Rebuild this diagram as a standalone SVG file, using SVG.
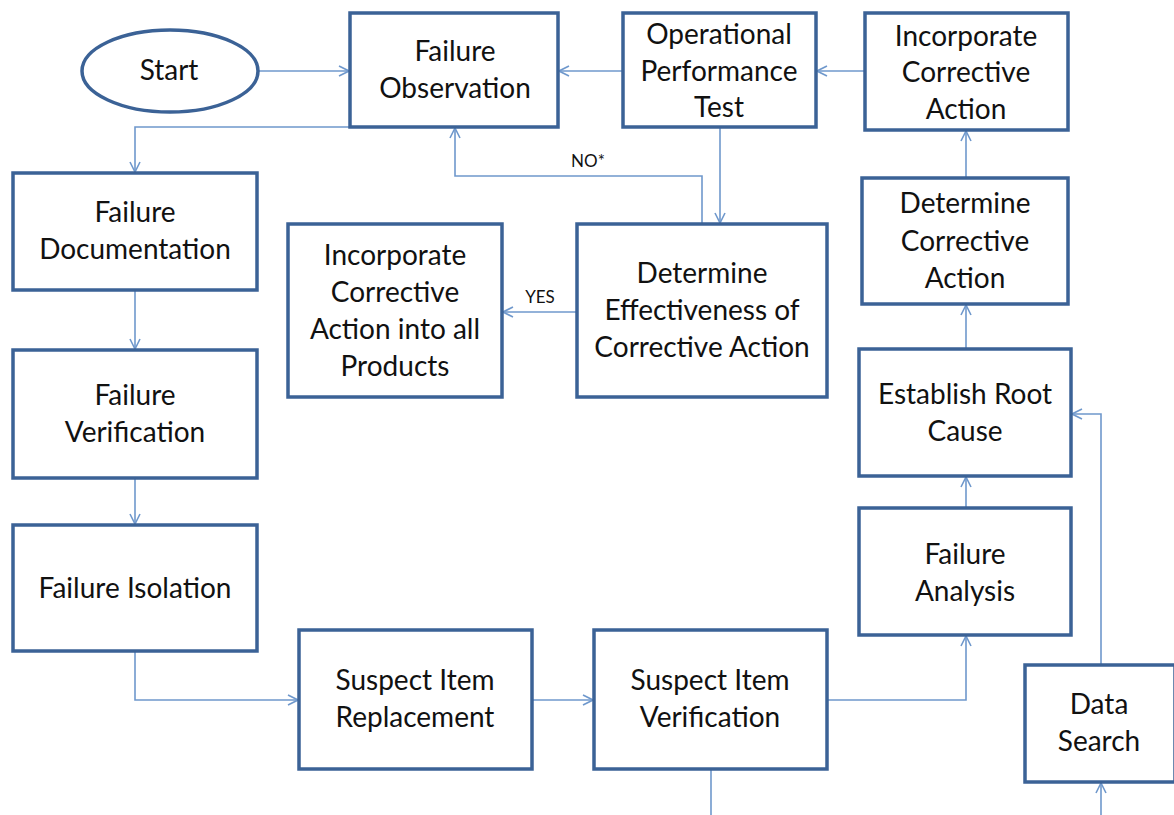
<svg xmlns="http://www.w3.org/2000/svg" width="1174" height="815" viewBox="0 0 1174 815">
  <style>
    .box { fill: #ffffff; stroke: #3B6296; stroke-width: 3.5; }
    .lbl { font-family: Lato, "Open Sans", "Liberation Sans", sans-serif; font-size: 28px; fill: #111111; text-anchor: middle; }
    .small { font-family: Lato, "Liberation Sans", sans-serif; font-size: 17px; fill: #111111; text-anchor: middle; }
    .conn { fill: none; stroke: #6F98CC; stroke-width: 1.6; }
  </style>
  <defs>
    <marker id="arrow" viewBox="0 0 12 12" refX="11" refY="6" markerWidth="12" markerHeight="12" markerUnits="userSpaceOnUse" orient="auto">
      <path d="M1,1 L11,6 L1,11" fill="none" stroke="#6F98CC" stroke-width="1.6"/>
    </marker>
  </defs>

  <rect width="1174" height="815" fill="#ffffff"/>

  <!-- connectors -->
  <g id="connectors">
    <path class="conn" d="M258,71 H349" marker-end="url(#arrow)"/>
    <path class="conn" d="M350,127 H135 V172" marker-end="url(#arrow)"/>
    <path class="conn" d="M135,290 V349" marker-end="url(#arrow)"/>
    <path class="conn" d="M135,478 V524" marker-end="url(#arrow)"/>
    <path class="conn" d="M135,651 V700 H298" marker-end="url(#arrow)"/>
    <path class="conn" d="M532,700 H593" marker-end="url(#arrow)"/>
    <path class="conn" d="M827,700 H966 V636" marker-end="url(#arrow)"/>
    <path class="conn" d="M966,508 V477" marker-end="url(#arrow)"/>
    <path class="conn" d="M966,349 V305" marker-end="url(#arrow)"/>
    <path class="conn" d="M966,178 V131" marker-end="url(#arrow)"/>
    <path class="conn" d="M865,71 H817" marker-end="url(#arrow)"/>
    <path class="conn" d="M623,71 H559" marker-end="url(#arrow)"/>
    <path class="conn" d="M720,127 V223" marker-end="url(#arrow)"/>
    <path class="conn" d="M702,224 V176 H455 V128" marker-end="url(#arrow)"/>
    <path class="conn" d="M577,312 H503" marker-end="url(#arrow)"/>
    <path class="conn" d="M711,769 V815"/>
    <path class="conn" d="M1101,815 V783" marker-end="url(#arrow)"/>
    <path class="conn" d="M1101,665 V414 H1072" marker-end="url(#arrow)"/>
    <text class="small" x="588" y="167">NO*</text>
    <text class="small" x="540" y="303">YES</text>
  </g>

  <g id="start">
    <ellipse class="box" cx="170" cy="71" rx="88" ry="41"/>
    <text class="lbl" x="169" y="80">Start</text>
  </g>

  <g id="failure-observation">
    <rect class="box" x="350" y="13" width="208" height="114"/>
    <text class="lbl" x="455" y="61">Failure</text>
    <text class="lbl" x="455" y="98">Observation</text>
  </g>

  <g id="operational-performance-test">
    <rect class="box" x="623" y="13" width="193" height="114"/>
    <text class="lbl" x="719" y="44">Operational</text>
    <text class="lbl" x="719" y="81">Performance</text>
    <text class="lbl" x="719" y="117">Test</text>
  </g>

  <g id="incorporate-corrective-action">
    <rect class="box" x="865" y="13" width="203" height="117"/>
    <text class="lbl" x="966" y="46">Incorporate</text>
    <text class="lbl" x="966" y="82">Corrective</text>
    <text class="lbl" x="966" y="119">Action</text>
  </g>

  <g id="failure-documentation">
    <rect class="box" x="13" y="173" width="244" height="117"/>
    <text class="lbl" x="135" y="222">Failure</text>
    <text class="lbl" x="135" y="259">Documentation</text>
  </g>

  <g id="incorporate-all-products">
    <rect class="box" x="288" y="224" width="214" height="173"/>
    <text class="lbl" x="395" y="265">Incorporate</text>
    <text class="lbl" x="395" y="302">Corrective</text>
    <text class="lbl" x="395" y="339">Action into all</text>
    <text class="lbl" x="395" y="376">Products</text>
  </g>

  <g id="determine-effectiveness">
    <rect class="box" x="577" y="224" width="250" height="173"/>
    <text class="lbl" x="702" y="283">Determine</text>
    <text class="lbl" x="702" y="320">Effectiveness  of</text>
    <text class="lbl" x="702" y="357">Corrective  Action</text>
  </g>

  <g id="determine-corrective-action">
    <rect class="box" x="862" y="178" width="206" height="126"/>
    <text class="lbl" x="965" y="213">Determine</text>
    <text class="lbl" x="965" y="251">Corrective</text>
    <text class="lbl" x="965" y="288">Action</text>
  </g>

  <g id="establish-root-cause">
    <rect class="box" x="859" y="349" width="212" height="127"/>
    <text class="lbl" x="965" y="404">Establish Root</text>
    <text class="lbl" x="965" y="441">Cause</text>
  </g>

  <g id="failure-verification">
    <rect class="box" x="13" y="350" width="244" height="128"/>
    <text class="lbl" x="135" y="405">Failure</text>
    <text class="lbl" x="135" y="442">Verification</text>
  </g>

  <g id="failure-isolation">
    <rect class="box" x="13" y="525" width="244" height="126"/>
    <text class="lbl" x="135" y="598">Failure Isolation</text>
  </g>

  <g id="failure-analysis">
    <rect class="box" x="859" y="508" width="212" height="127"/>
    <text class="lbl" x="965" y="564">Failure</text>
    <text class="lbl" x="965" y="601">Analysis</text>
  </g>

  <g id="suspect-item-replacement">
    <rect class="box" x="299" y="630" width="233" height="139"/>
    <text class="lbl" x="415" y="690">Suspect Item</text>
    <text class="lbl" x="415" y="727">Replacement</text>
  </g>

  <g id="suspect-item-verification">
    <rect class="box" x="594" y="630" width="233" height="139"/>
    <text class="lbl" x="710" y="690">Suspect Item</text>
    <text class="lbl" x="710" y="727">Verification</text>
  </g>

  <g id="data-search">
    <rect class="box" x="1025" y="665" width="150" height="117"/>
    <text class="lbl" x="1099" y="714">Data</text>
    <text class="lbl" x="1099" y="751">Search</text>
  </g>
</svg>
